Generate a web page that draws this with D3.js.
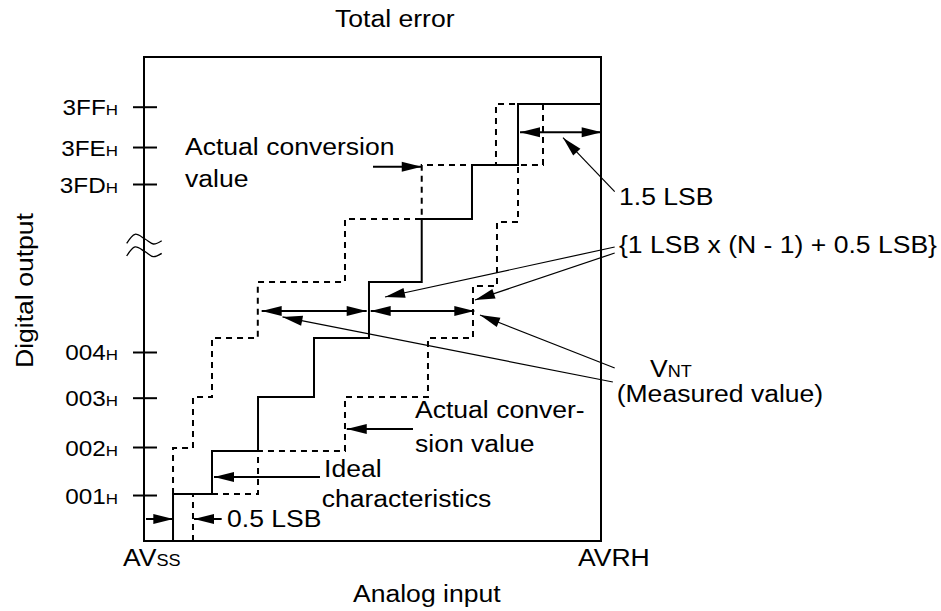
<!DOCTYPE html>
<html><head><meta charset="utf-8">
<script src="https://cdn.jsdelivr.net/npm/d3@7"></script>
<style>
body{margin:0;background:#fff}
svg{display:block}
text{font-family:"Liberation Sans",Arial,Helvetica,sans-serif;fill:#000}
</style>
</head><body>
<svg id="c" width="941" height="611"></svg>
<script>
// ---------- data (analog input 0..100, digital output 0..100 in plot units) ----------
const yTickValues = [9.5, 19.42, 29.61, 39.05, 73.76, 81.40, 89.73];
const yTickLabels = ["001", "002", "003", "004", "3FD", "3FE", "3FF"];
const yTickSuffix = "H";
const yBreakAt = 61.16;

const xEndValues = [0, 100];
const xEndLabels = [["AV", "SS"], ["AVRH", ""]];

// ideal characteristics (solid staircase)
const idealStartLevel = 0;
const idealEdges  = [6.35, 14.88, 24.95, 37.2, 49.23, 60.77, 71.77, 81.84];
const idealLevels = [9.71, 18.6, 29.75, 41.94, 53.51, 66.53, 77.69, 90.29];
const idealEndX = 100;

// actual conversion value, upper bound (dashed, left)
const upperStartLevel = 9.71;
const upperEdges  = [6.35, 10.72, 14.88, 24.9, 43.98, 60.77, 77.02];
const upperLevels = [19.21, 29.75, 41.94, 53.51, 66.53, 77.69, 90.29];
const upperEndX = 81.84;

// actual conversion value, lower bound (dashed, right)
const lowerStartLevel = 0;
const lowerEdges  = [10.72, 24.95, 43.98, 62.14, 71.99, 77.24, 81.84, 87.31];
const lowerLevels = [9.71, 18.6, 29.75, 41.94, 52.69, 65.91, 77.69, 90.29];
const lowerEndX = null;

// single-headed thick arrows: [fromX, fromY, tipX, tipY]
const pointerArrows = [
  [50.11, 77.33, 60.77, 77.33],
  [58.86, 23.14, 44.36, 23.14],
  [38.51, 13.22, 15.32, 13.22],
  [0.44, 4.55, 6.41, 4.55],
  [17.0, 4.55, 10.94, 4.55]
];
// double-headed arrows: [x1, y1, x2, y2]
const spanArrows = [
  [82.28, 84.44, 100.15, 84.44],
  [25.75, 47.52, 48.73, 47.52],
  [49.61, 47.52, 72.28, 47.52]
];
// thin leader lines with arrow heads: [fromX, fromY, tipX, tipY]
const leaderArrows = [
  [103.0, 72.17, 91.68, 83.33],
  [103.0, 60.74, 52.74, 50.41],
  [103.0, 59.50, 72.43, 49.79],
  [103.0, 35.74, 73.52, 46.69],
  [102.6, 32.85, 30.3, 46.3]
];
// annotation texts: [x, y, main, small]
const notes = [
  [8.97, 79.75, "Actual conversion", ""],
  [8.97, 73.2, "value", ""],
  [59.3, 25.41, "Actual conver-", ""],
  [59.3, 18.45, "sion value", ""],
  [39.39, 13.29, "Ideal", ""],
  [38.88, 6.96, "characteristics", ""],
  [18.16, 2.89, "0.5 LSB", ""],
  [103.94, 69.42, "1.5 LSB", ""],
  [103.94, 59.5, "{1 LSB x (N - 1) + 0.5 LSB}", ""],
  [110.72, 33.95, "V", "NT"],
  [103.43, 28.78, "(Measured value)", ""]
];
const chartTitle = "Total error";
const xTitle = "Analog input";
const yTitle = "Digital output";

// ---------- layout ----------
const SX = 1.13;            // horizontal glyph stretch
const FS = 23.5, FS_SMALL = 16, FS_TICK = 21.5, FS_TICK_SMALL = 15;
const svg = d3.select("#c");
const x = d3.scaleLinear().domain([0, 100]).range([144, 601]);
const y = d3.scaleLinear().domain([0, 100]).range([541, 57]);

function addText(g, px, py, main, small, opts = {}) {
  const fs = opts.fs || FS, fss = opts.fss || FS_SMALL;
  const rot = opts.rotate ? ` rotate(${opts.rotate})` : "";
  const t = g.append("text")
    .attr("transform", `translate(${px},${py})${rot} scale(${SX},1)`)
    .attr("font-size", fs)
    .attr("text-anchor", opts.anchor || "start");
  t.append("tspan").text(main);
  if (small) t.append("tspan").attr("font-size", fss).text(small);
  return t;
}

// frame
svg.append("rect")
  .attr("x", x(0)).attr("y", y(100))
  .attr("width", x(100) - x(0)).attr("height", y(0) - y(100))
  .attr("fill", "none").attr("stroke", "#000").attr("stroke-width", 2);

// y axis ticks
const yAxis = d3.axisLeft(y).tickValues(yTickValues).tickSize(0)
  .tickFormat((d, i) => yTickLabels[i]);
const gy = svg.append("g").attr("transform", `translate(${x(0)},0)`).call(yAxis);
gy.attr("font-size", null).attr("font-family", null);
gy.select(".domain").remove();
gy.selectAll(".tick line").attr("x1", -11).attr("x2", 13)
  .attr("stroke", "#000").attr("stroke-width", 2);
gy.selectAll(".tick text").each(function (d, i) {
  const t = d3.select(this);
  t.text(null).attr("x", null).attr("dy", null).attr("fill", null)
    .attr("font-size", FS_TICK).attr("text-anchor", "end")
    .attr("transform", `translate(-26,8) scale(${SX},1)`);
  t.append("tspan").text(yTickLabels[i]);
  t.append("tspan").attr("font-size", FS_TICK_SMALL).text(yTickSuffix);
});

// axis break symbol
const tilde = d3.line().curve(d3.curveCardinal);
const bx = x(0), by = y(yBreakAt);
const tildeShape = [[-17.3, -1.7], [-9, -10.7], [1, -6], [9.3, -1], [17.7, -4.3]];
[0, 12.7].forEach(off => {
  svg.append("path")
    .attr("d", tilde(tildeShape.map(p => [bx + p[0], by + p[1] + off])))
    .attr("fill", "none").attr("stroke", "#000").attr("stroke-width", 1.3);
});

// bottom end labels
const xLabelOffsets = [-21, -23];
xEndValues.forEach((v, i) => {
  addText(svg, x(v) + xLabelOffsets[i], 566, xEndLabels[i][0], xEndLabels[i][1]);
});

// staircases
function stepPoints(startLevel, edges, levels, endX) {
  const pts = [[edges[0], startLevel]];
  edges.forEach((e, i) => pts.push([e, levels[i]]));
  if (endX != null) pts.push([endX, levels[levels.length - 1]]);
  return pts;
}
const step = d3.line().x(d => x(d[0])).y(d => y(d[1])).curve(d3.curveStepAfter);
svg.append("path").attr("d", step(stepPoints(upperStartLevel, upperEdges, upperLevels, upperEndX)))
  .attr("fill", "none").attr("stroke", "#000").attr("stroke-width", 2).attr("stroke-dasharray", "6,5");
svg.append("path").attr("d", step(stepPoints(lowerStartLevel, lowerEdges, lowerLevels, lowerEndX)))
  .attr("fill", "none").attr("stroke", "#000").attr("stroke-width", 2).attr("stroke-dasharray", "6,5");
svg.append("path").attr("d", step(stepPoints(idealStartLevel, idealEdges, idealLevels, idealEndX)))
  .attr("fill", "none").attr("stroke", "#000").attr("stroke-width", 2);

// arrows
function head(tx, ty, fx, fy, len = 20, hw = 5) {
  const dx = tx - fx, dy = ty - fy, L = Math.hypot(dx, dy);
  const ux = dx / L, uy = dy / L;
  const bxp = tx - ux * len, byp = ty - uy * len;
  return `M${tx},${ty}L${bxp - uy * hw},${byp + ux * hw}L${bxp + uy * hw},${byp - ux * hw}Z`;
}
function arrow(fx, fy, tx, ty, w, both) {
  const [a, b, c, d] = [x(fx), y(fy), x(tx), y(ty)];
  svg.append("line").attr("x1", a).attr("y1", b).attr("x2", c).attr("y2", d)
    .attr("stroke", "#000").attr("stroke-width", w);
  svg.append("path").attr("d", head(c, d, a, b)).attr("fill", "#000");
  if (both) svg.append("path").attr("d", head(a, b, c, d)).attr("fill", "#000");
}
pointerArrows.forEach(p => arrow(p[0], p[1], p[2], p[3], 2, false));
spanArrows.forEach(p => arrow(p[0], p[1], p[2], p[3], 2, true));
leaderArrows.forEach(p => arrow(p[0], p[1], p[2], p[3], 1.2, false));

// annotation text
notes.forEach(n => addText(svg, x(n[0]), y(n[1]), n[2], n[3]));

// titles
addText(svg, 335, 26.7, chartTitle, "");
addText(svg, 353, 601.7, xTitle, "");
addText(svg, 33, 368, yTitle, "", { rotate: -90 });
</script>
</body></html>
